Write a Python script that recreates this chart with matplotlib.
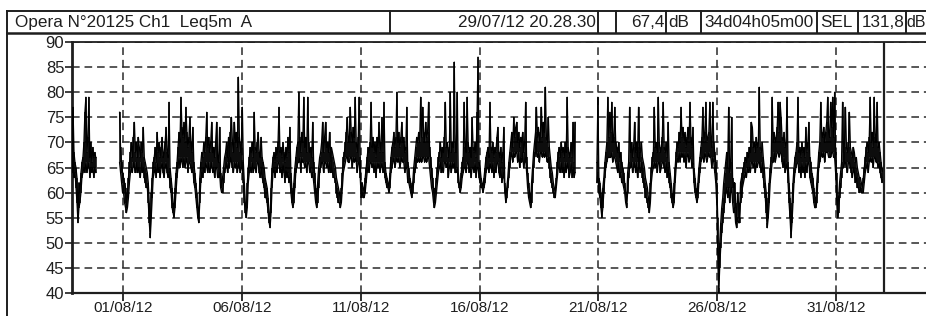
import numpy as np
import pandas as pd
import matplotlib
matplotlib.use("Agg")
import matplotlib.pyplot as plt
from matplotlib.lines import Line2D

nan = np.nan

# ---- header of the sound level meter printout ----
header_title = "Opera N°20125 Ch1  Leq5m  A"
start_label = "29/07/12 20.28.30"
leq_total = "67,4"
duration_label = "34d04h05m00"
sel_total = "131,8"

start_time = pd.Timestamp("2012-07-29 20:28:30")
duration = pd.Timedelta("34D04h05min")
first_sample = "2012-07-29 20:30"

# ---- Leq dB(A): hourly top of the 5 min trace, one row per day ----
leq_high = [
    70, 77, 68, 66,  # 29/07 (from 20:30)
    65, 63, 55, 62, 60, 64, 66, 67, 70, 76, 79, 68, 71, 79, 67, 70, 66, 69, 67, 68, 67, nan, nan, nan,  # 30/07
    nan, nan, nan, nan, nan, nan, nan, nan, nan, nan, nan, nan, nan, nan, nan, nan, nan, nan, nan, nan, 76, 69, 66, 64,  # 31/07
    63, 62, 61, 57, 60, 63, 66, 68, 70, 67, 71, 74, 68, 70, 67, 71, 69, 67, 70, 68, 73, 67, 66, 65,  # 01/08
    64, 62, 58, 52, 60, 63, 66, 67, 69, 66, 72, 68, 70, 67, 69, 71, 67, 68, 70, 73, 68, 67, 78, 65,  # 02/08
    63, 61, 58, 56, 61, 64, 66, 69, 72, 70, 79, 73, 71, 74, 70, 77, 72, 69, 71, 75, 70, 68, 73, 66,  # 03/08
    64, 62, 60, 57, 55, 63, 66, 68, 67, 70, 68, 71, 76, 69, 71, 68, 70, 74, 68, 69, 67, 70, 74, 67,  # 04/08
    66, 73, 64, 61, 63, 65, 67, 68, 70, 67, 71, 69, 72, 75, 70, 68, 74, 70, 72, 69, 83, 71, 68, 70,  # 05/08
    77, 66, 62, 58, 56, 62, 65, 67, 69, 68, 70, 67, 76, 69, 68, 70, 72, 68, 67, 71, 67, 66, 65, 63,  # 06/08
    62, 61, 59, 56, 54, 61, 65, 67, 68, 66, 69, 67, 70, 77, 68, 69, 67, 70, 68, 66, 69, 67, 71, 68,  # 07/08
    73, 64, 61, 58, 62, 65, 67, 69, 70, 80, 71, 68, 72, 70, 79, 69, 71, 68, 79, 70, 68, 69, 67, 74,  # 08/08
    66, 64, 61, 58, 62, 65, 67, 68, 70, 74, 68, 71, 74, 69, 70, 68, 72, 67, 69, 68, 67, 66, 65, 63,  # 09/08
    62, 61, 60, 58, 61, 64, 67, 68, 70, 72, 75, 70, 71, 77, 72, 70, 73, 71, 79, 70, 68, 71, 79, 67,  # 10/08
    60, 62, 61, 60, 63, 65, 67, 69, 68, 70, 78, 69, 71, 68, 70, 67, 71, 69, 74, 68, 70, 75, 68, 78,  # 11/08
    66, 64, 63, 62, 61, 64, 67, 69, 70, 72, 69, 71, 80, 70, 72, 69, 71, 74, 70, 71, 68, 69, 77, 66,  # 12/08
    65, 63, 62, 60, 62, 65, 67, 69, 71, 70, 72, 70, 79, 71, 77, 72, 70, 74, 71, 72, 78, 69, 67, 65,  # 13/08
    63, 61, 58, 61, 63, 65, 67, 68, 70, 67, 69, 68, 71, 78, 69, 70, 67, 69, 80, 68, 70, 69, 86, 68,  # 14/08
    68, 80, 64, 62, 61, 64, 66, 67, 78, 69, 68, 79, 70, 68, 69, 67, 75, 69, 68, 70, 67, 76, 87, 66,  # 15/08
    65, 63, 62, 61, 63, 65, 67, 68, 69, 67, 78, 69, 68, 70, 67, 69, 68, 71, 73, 68, 67, 69, 66, 68,  # 16/08
    73, 62, 59, 61, 63, 66, 68, 70, 72, 69, 75, 71, 73, 74, 70, 72, 69, 71, 70, 72, 68, 70, 78, 67,  # 17/08
    64, 62, 60, 58, 62, 65, 68, 70, 72, 77, 71, 73, 70, 72, 77, 71, 74, 72, 81, 71, 70, 75, 69, 67,  # 18/08
    65, 64, 62, 61, 60, 63, 66, 68, 69, 67, 70, 68, 69, 67, 70, 68, 79, 69, 67, 68, 70, 67, 74, 66,  # 19/08
    74, nan, nan, nan, nan, nan, nan, nan, nan, nan, nan, nan, nan, nan, nan, nan, nan, nan, nan, nan, nan, nan, 66, 79,  # 20/08
    63, 62, 60, 56, 61, 63, 66, 68, 70, 79, 71, 76, 72, 78, 70, 71, 77, 70, 69, 68, 70, 67, 68, 66,  # 21/08
    65, 64, 62, 60, 58, 64, 66, 77, 68, 70, 67, 69, 74, 68, 70, 67, 77, 69, 68, 70, 67, 66, 65, 63,  # 22/08
    62, 61, 59, 57, 62, 65, 67, 68, 77, 69, 70, 68, 79, 70, 68, 69, 71, 78, 69, 68, 70, 67, 74, 66,  # 23/08
    64, 62, 60, 58, 62, 65, 68, 70, 69, 72, 70, 77, 71, 73, 70, 72, 69, 71, 73, 70, 78, 71, 69, 73,  # 24/08
    65, 63, 61, 59, 62, 65, 67, 69, 71, 77, 70, 72, 78, 70, 71, 72, 78, 71, 69, 78, 70, 68, 66, 62,  # 25/08
    55, 41, 50, 54, 57, 59, 62, 64, 66, 68, 65, 77, 64, 66, 75, 63, 61, 62, 58, 54, 60, 58, 55, 62,  # 26/08
    63, 64, 65, 66, 67, 66, 68, 67, 69, 68, 74, 73, 69, 70, 68, 71, 69, 70, 81, 69, 68, 70, 67, 65,  # 27/08
    62, 60, 54, 59, 62, 65, 67, 79, 70, 72, 70, 71, 73, 78, 72, 78, 75, 71, 70, 72, 69, 70, 79, 66,  # 28/08
    62, 59, 52, 58, 62, 65, 67, 68, 70, 79, 68, 69, 67, 70, 68, 69, 67, 73, 68, 70, 74, 67, 66, 64,  # 29/08
    63, 61, 59, 58, 62, 65, 68, 70, 78, 72, 71, 73, 70, 72, 74, 79, 72, 71, 78, 73, 79, 71, 80, 68,  # 30/08
    64, 56, 59, 62, 64, 66, 78, 68, 70, 77, 69, 68, 70, 76, 69, 68, 67, 69, 68, 66, 67, 65, 64, 63,  # 31/08
    63, 62, 61, 63, 65, 67, 69, 70, 68, 71, 79, 70, 72, 69, 79, 71, 70, 78, 69, 70, 68, 66, 64, 65,  # 01/09
]

# ---- hourly bottom of the same trace ----
leq_low = [
    64, 65, 63, 64,  # 29/07
    61, 58, 54, 57, 58, 60, 63, 64, 65, 64, 66, 64, 65, 66, 63, 65, 64, 65, 63, 65, 64, nan, nan, nan,  # 30/07
    nan, nan, nan, nan, nan, nan, nan, nan, nan, nan, nan, nan, nan, nan, nan, nan, nan, nan, nan, nan, 66, 64, 62, 60,  # 31/07
    60, 58, 57, 56, 57, 59, 62, 64, 65, 64, 66, 65, 64, 66, 64, 65, 64, 63, 66, 64, 65, 63, 62, 61,  # 01/08
    61, 58, 54, 51, 55, 59, 63, 64, 65, 63, 66, 64, 65, 63, 65, 66, 64, 63, 65, 66, 64, 63, 64, 61,  # 02/08
    60, 57, 56, 55, 57, 60, 63, 65, 67, 65, 67, 66, 65, 67, 65, 66, 67, 64, 66, 66, 65, 64, 65, 62,  # 03/08
    61, 59, 57, 55, 54, 58, 62, 64, 63, 65, 64, 66, 65, 64, 66, 64, 65, 66, 64, 65, 63, 65, 65, 63,  # 04/08
    63, 64, 61, 60, 60, 62, 64, 65, 66, 64, 66, 65, 67, 66, 65, 64, 66, 65, 66, 64, 66, 65, 64, 65,  # 05/08
    65, 62, 58, 56, 55, 57, 62, 64, 65, 64, 66, 64, 65, 65, 64, 66, 66, 64, 63, 65, 63, 62, 61, 59,  # 06/08
    59, 58, 56, 54, 53, 56, 61, 64, 65, 63, 65, 64, 66, 66, 64, 65, 63, 66, 64, 62, 65, 63, 64, 62,  # 07/08
    63, 60, 58, 57, 58, 61, 64, 65, 66, 66, 67, 64, 67, 66, 66, 65, 66, 64, 66, 66, 64, 65, 63, 64,  # 08/08
    62, 60, 58, 57, 58, 61, 64, 65, 66, 66, 64, 66, 66, 65, 66, 64, 66, 64, 65, 64, 63, 63, 62, 60,  # 09/08
    59, 58, 58, 57, 58, 61, 64, 65, 66, 67, 67, 66, 66, 67, 67, 65, 67, 66, 67, 66, 64, 66, 66, 63,  # 10/08
    59, 60, 59, 59, 60, 62, 64, 65, 64, 66, 66, 65, 66, 64, 66, 63, 66, 65, 66, 64, 65, 66, 64, 65,  # 11/08
    63, 62, 61, 61, 60, 61, 64, 65, 66, 67, 65, 66, 67, 66, 67, 65, 66, 67, 66, 66, 64, 65, 65, 62,  # 12/08
    62, 61, 60, 59, 60, 62, 64, 65, 67, 66, 67, 66, 67, 66, 67, 67, 66, 67, 66, 67, 67, 65, 63, 61,  # 13/08
    60, 58, 57, 58, 60, 62, 64, 65, 66, 64, 65, 64, 66, 66, 65, 66, 63, 65, 66, 64, 66, 65, 66, 64,  # 14/08
    64, 65, 62, 61, 60, 61, 63, 64, 65, 65, 64, 66, 66, 64, 65, 63, 65, 65, 64, 66, 63, 65, 65, 63,  # 15/08
    62, 61, 61, 60, 61, 62, 64, 65, 65, 64, 66, 65, 64, 66, 63, 65, 64, 66, 66, 64, 63, 65, 62, 63,  # 16/08
    64, 60, 58, 59, 61, 63, 65, 67, 68, 66, 68, 67, 68, 68, 66, 68, 65, 67, 66, 68, 65, 66, 67, 64,  # 17/08
    61, 59, 58, 57, 58, 62, 65, 67, 68, 68, 67, 68, 66, 68, 68, 67, 68, 67, 68, 67, 66, 67, 65, 63,  # 18/08
    62, 61, 60, 59, 59, 61, 63, 65, 65, 64, 66, 64, 65, 63, 66, 64, 66, 65, 63, 64, 66, 63, 65, 63,  # 19/08
    64, nan, nan, nan, nan, nan, nan, nan, nan, nan, nan, nan, nan, nan, nan, nan, nan, nan, nan, nan, nan, nan, 62, 64,  # 20/08
    60, 59, 57, 55, 57, 60, 63, 65, 66, 67, 67, 67, 67, 68, 66, 67, 67, 66, 65, 64, 66, 63, 64, 62,  # 21/08
    62, 61, 60, 58, 57, 60, 63, 65, 65, 66, 64, 65, 66, 64, 66, 63, 65, 65, 64, 66, 63, 62, 61, 59,  # 22/08
    59, 58, 57, 56, 58, 62, 64, 65, 66, 65, 66, 64, 66, 66, 64, 65, 66, 66, 65, 64, 66, 63, 65, 62,  # 23/08
    61, 59, 58, 57, 58, 62, 65, 67, 66, 68, 66, 68, 67, 68, 66, 68, 65, 67, 68, 66, 67, 67, 65, 66,  # 24/08
    62, 60, 59, 58, 59, 62, 64, 66, 67, 67, 66, 68, 67, 66, 67, 68, 67, 67, 65, 67, 66, 64, 62, 58,  # 25/08
    48, 40, 45, 49, 52, 54, 56, 58, 60, 61, 59, 61, 58, 60, 61, 58, 56, 57, 54, 53, 55, 54, 54, 58,  # 26/08
    59, 61, 62, 63, 64, 63, 65, 64, 65, 64, 66, 66, 65, 66, 64, 66, 65, 66, 66, 65, 64, 66, 63, 61,  # 27/08
    59, 56, 53, 55, 58, 62, 64, 66, 66, 68, 66, 67, 68, 68, 67, 68, 68, 66, 65, 67, 64, 65, 66, 62,  # 28/08
    58, 55, 51, 54, 58, 62, 64, 65, 66, 66, 64, 65, 63, 66, 64, 65, 63, 66, 64, 66, 66, 63, 62, 61,  # 29/08
    60, 58, 57, 57, 58, 62, 65, 66, 67, 68, 67, 68, 66, 68, 68, 68, 67, 67, 67, 68, 68, 67, 67, 64,  # 30/08
    59, 55, 56, 59, 61, 63, 65, 65, 66, 66, 65, 64, 66, 66, 65, 64, 63, 65, 64, 62, 63, 61, 61, 60,  # 31/08
    61, 60, 60, 60, 62, 64, 65, 66, 64, 66, 67, 66, 67, 65, 67, 67, 66, 66, 65, 66, 64, 63, 62, 63,  # 01/09
]

tick_labels = ["01/08/12", "06/08/12", "11/08/12", "16/08/12", "21/08/12", "26/08/12", "31/08/12"]
y_ticks = [40, 45, 50, 55, 60, 65, 70, 75, 80, 85, 90]

times = pd.date_range(first_sample, periods=len(leq_high), freq="h")
tick_pos = pd.to_datetime(tick_labels, format="%d/%m/%y")

plt.rcParams["font.family"] = ["Liberation Sans", "DejaVu Sans"]
ink = "#1e1e1e"

W, H = 926, 316
fig = plt.figure(figsize=(W / 100, H / 100), dpi=100)

# ---- header band, drawn in pixel coordinates ----
hdr = fig.add_axes([0, 0, 1, 1])
hdr.set_xlim(0, W)
hdr.set_ylim(H, 0)
hdr.axis("off")
hdr.patch.set_alpha(0)
hdr.add_line(Line2D([7, W], [11, 11], color=ink, lw=1.4))
hdr.add_line(Line2D([7, W], [33, 33], color=ink, lw=1.8))
hdr.add_line(Line2D([7, 7], [11, H], color=ink, lw=1.4))
for xd in [390, 598, 616, 666, 701, 817, 858, 906]:
    hdr.add_line(Line2D([xd, xd], [11, 33], color=ink, lw=1.4))
fs = 12.3
hdr.text(15, 22.5, header_title, fontsize=fs, color=ink, ha="left", va="center")
hdr.text(596, 22.5, start_label, fontsize=fs, color=ink, ha="right", va="center")
hdr.text(665, 22.5, leq_total, fontsize=fs, color=ink, ha="right", va="center")
hdr.text(668, 22.5, "dB", fontsize=fs, color=ink, ha="left", va="center")
hdr.text(759, 22.5, duration_label, fontsize=fs, color=ink, ha="center", va="center")
hdr.text(820, 22.5, "SEL", fontsize=fs, color=ink, ha="left", va="center")
hdr.text(905, 22.5, sel_total, fontsize=fs, color=ink, ha="right", va="center")
hdr.text(906.5, 22.5, "dB", fontsize=11.4, color=ink, ha="left", va="center")

# ---- time history ----
ax = fig.add_axes([72 / W, (H - 293) / H, 1 - 72 / W, (293 - 42) / H])
ax.vlines(times, leq_low, leq_high, color="black", lw=1.1, zorder=3)
ax.plot(times, leq_high, color="black", lw=0.9, zorder=3)
ax.plot(times, leq_low, color="black", lw=0.9, zorder=3)
ax.axvline(start_time + duration, color=ink, lw=1.6, zorder=4)

ax.set_xlim(start_time, start_time + pd.Timedelta(days=35.93))
ax.set_ylim(40, 90)
ax.set_yticks(y_ticks)
ax.set_xticks(tick_pos)
ax.set_xticklabels(tick_labels)

ax.grid(True, color="#2a2a2a", linestyle=(0, (5, 3.2)), linewidth=1.1)
ax.set_axisbelow(True)

ax.spines["right"].set_visible(False)
ax.spines["left"].set_linewidth(2.0)
ax.spines["bottom"].set_linewidth(1.6)
ax.spines["top"].set_linewidth(1.3)
for s in ax.spines.values():
    s.set_color(ink)

ax.tick_params(axis="y", direction="out", length=5, width=1.2, pad=0.5,
               labelsize=12, colors=ink)
ax.tick_params(axis="x", direction="out", length=6, width=1.3, pad=0,
               labelsize=11, colors=ink)

fig.savefig("out.png", dpi=100)
